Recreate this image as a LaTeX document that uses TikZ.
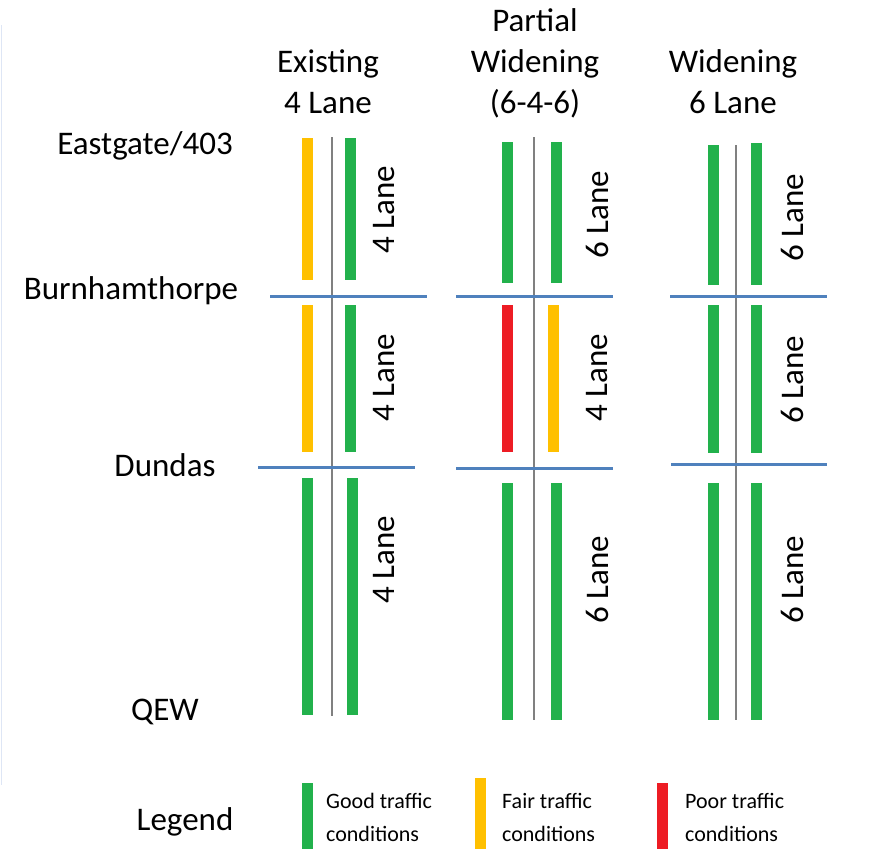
\documentclass[tikz,border=0pt]{standalone}
\usepackage{fontspec}
\setmainfont{Carlito}
\definecolor{goodgreen}{RGB}{34,177,76}
\definecolor{fairyellow}{RGB}{255,192,0}
\definecolor{poorred}{RGB}{237,28,36}
\definecolor{roadblue}{RGB}{79,129,189}
\definecolor{medgray}{RGB}{128,128,128}
\definecolor{edgeblue}{RGB}{222,230,245}

\begin{document}
\begin{tikzpicture}[x=1pt,y=-1pt,
      every node/.style={font=\fontsize{33}{41}\selectfont,inner sep=0pt},
      good/.style={draw=goodgreen,line width=11pt},
      fair/.style={draw=fairyellow,line width=11pt},
      poor/.style={draw=poorred,line width=11pt},
      median/.style={draw=medgray,line width=2.5pt},
      cross/.style={draw=roadblue,line width=3pt},
      lanes/.style={rotate=90},
      key/.style={font=\fontsize{22}{33}\selectfont,align=left,anchor=west}]
    \useasboundingbox (0,0) rectangle (875,849);
    \draw[edgeblue,line width=1.5pt] (1.5,25) -- (1.5,785);

    % headers
    \node[align=center] (existing) at (328,82) {Existing\\4 Lane};
    \node[align=center] (partial) at (535,63) {Partial\\Widening\\(6-4-6)};
    \node[align=center] (widening) at (733,82) {Widening\\6 Lane};

    % cross streets
    \node (eastgate) at (145,146) {Eastgate/403};
    \node (burnham) at (131,291) {Burnhamthorpe};
    \node (dundas) at (165,465) {Dundas};
    \node (qew) at (165,712) {QEW};

    % existing 4 lane
    \draw[median] (332,137) -- (332,716);
    \draw[fair] (307,138) -- (307,280);
    \draw[good] (350,138) -- (350,280);
    \draw[fair] (307,305) -- (307,452);
    \draw[good] (350,305) -- (350,452);
    \draw[good] (307,478) -- (307,715);
    \draw[good] (352,478) -- (352,715);
    \draw[cross] (270,296) -- (427,296);
    \draw[cross] (258,467) -- (415,467);
    \node[lanes] (e1) at (384,210) {4 Lane};
    \node[lanes] (e2) at (384,378) {4 Lane};
    \node[lanes] (e3) at (384,560) {4 Lane};

    % partial widening
    \draw[median] (534,137) -- (534,720);
    \draw[good] (507,142) -- (507,283);
    \draw[good] (556,142) -- (556,283);
    \draw[poor] (507,305) -- (507,452);
    \draw[fair] (553,305) -- (553,452);
    \draw[good] (507,483) -- (507,720);
    \draw[good] (556,483) -- (556,720);
    \draw[cross] (456,296) -- (613,296);
    \draw[cross] (456,468) -- (613,468);
    \node[lanes] (p1) at (597,215) {6 Lane};
    \node[lanes] (p2) at (597,378) {4 Lane};
    \node[lanes] (p3) at (597,580) {6 Lane};

    % widening 6 lane
    \draw[median] (736,145) -- (736,720);
    \draw[good] (713,145) -- (713,285);
    \draw[good] (756,143) -- (756,285);
    \draw[good] (713,305) -- (713,453);
    \draw[good] (756,305) -- (756,453);
    \draw[good] (713,483) -- (713,720);
    \draw[good] (756,483) -- (756,720);
    \draw[cross] (670,296) -- (827,296);
    \draw[cross] (671,464) -- (827,464);
    \node[lanes] (w1) at (792,218) {6 Lane};
    \node[lanes] (w2) at (792,380) {6 Lane};
    \node[lanes] (w3) at (792,580) {6 Lane};

    % legend
    \node (legend) at (185,822) {Legend};
    \draw[good] (307,783) -- (307,849);
    \node[key] (goodkey) at (326,817) {Good traffic\\conditions};
    \draw[fair] (480,778) -- (480,849);
    \node[key] (fairkey) at (502,817) {Fair traffic\\conditions};
    \draw[poor] (662,783) -- (662,849);
    \node[key] (poorkey) at (685,817) {Poor traffic\\conditions};
  \end{tikzpicture}
\end{document}
